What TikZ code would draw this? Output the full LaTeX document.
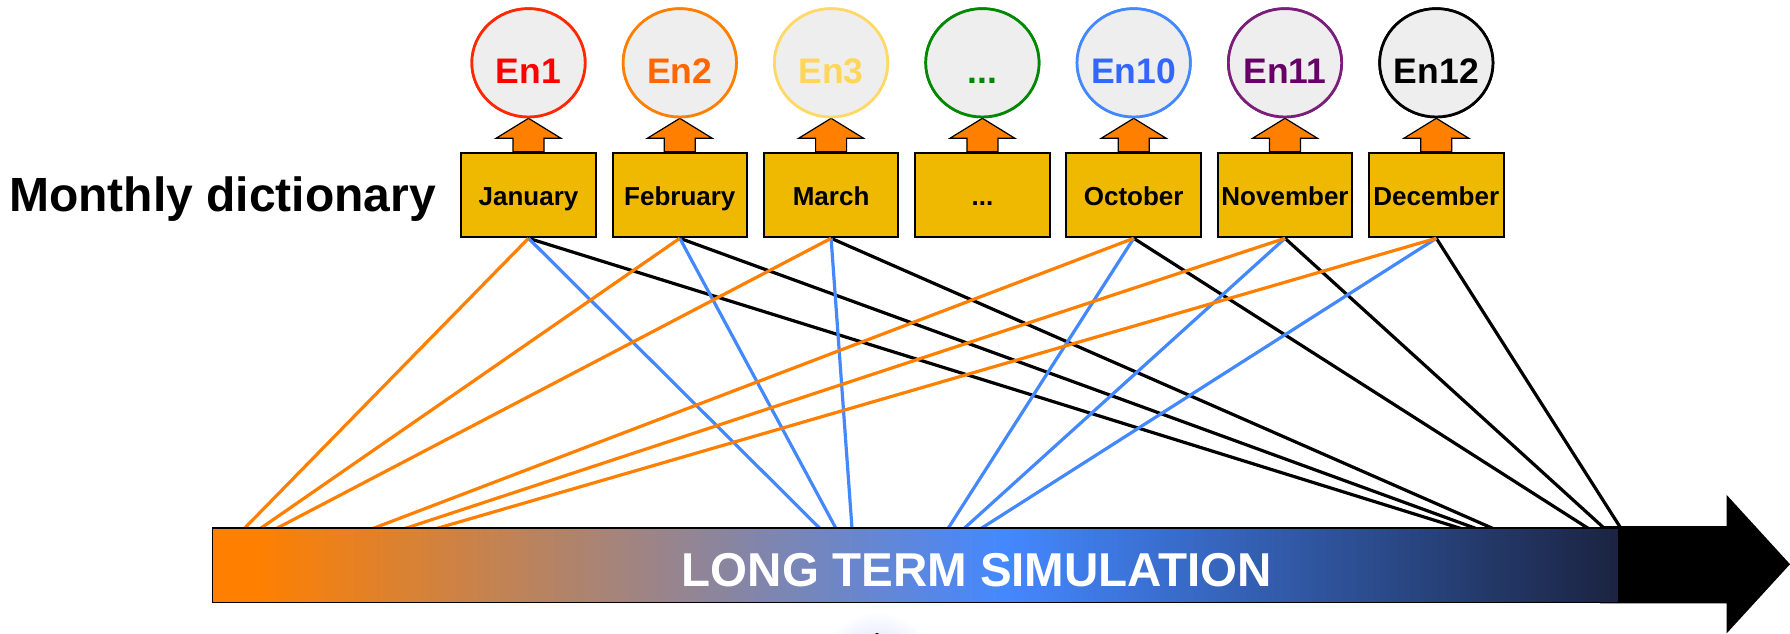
\documentclass[tikz,border=0pt]{standalone}
\usepackage{fontspec}
\setmainfont{Liberation Sans}
\usetikzlibrary{calc,shapes.geometric}
\definecolor{cOrange}{RGB}{255,128,0}
\definecolor{cBlue}{RGB}{68,136,255}
\definecolor{cNavy}{RGB}{27,35,64}
\definecolor{boxfill}{RGB}{238,185,0}
\definecolor{ellfill}{RGB}{238,238,238}
\definecolor{glowblue}{RGB}{200,212,255}
\definecolor{eAb}{RGB}{255,40,0}\definecolor{eAt}{RGB}{255,0,0}
\definecolor{eBb}{RGB}{255,128,0}\definecolor{eBt}{RGB}{255,102,0}
\definecolor{eCb}{RGB}{255,217,102}\definecolor{eCt}{RGB}{255,214,90}
\definecolor{eDb}{RGB}{0,136,0}\definecolor{eDt}{RGB}{0,136,0}
\definecolor{eEb}{RGB}{68,136,255}\definecolor{eEt}{RGB}{51,102,255}
\definecolor{eFb}{RGB}{123,30,122}\definecolor{eFt}{RGB}{102,0,102}
\definecolor{eGb}{RGB}{0,0,0}\definecolor{eGt}{RGB}{0,0,0}
\newcommand\tridots{...}
\pgfdeclarehorizontalshading{timebar}{100bp}{color(0bp)=(cOrange); color(25bp)=(cOrange); color(26.5bp)=(cOrange); color(53.2bp)=(cBlue); color(75bp)=(cNavy); color(100bp)=(cNavy)}
\tikzset{
  monthbox/.style={draw=black, line width=2pt, fill=boxfill, minimum width=134.6pt, minimum height=84.6pt, inner sep=0pt},
  encirc/.style={ellipse, line width=2.7pt, fill=ellfill, minimum width=113.3pt, minimum height=108.3pt, inner sep=0pt},
  monthtext/.style={font=\fontsize{26}{31}\selectfont\bfseries, inner sep=0pt, anchor=base},
  entext/.style={font=\fontsize{35.5}{42}\selectfont\bfseries, inner sep=0pt, anchor=base},
  uparrow/.style={fill=cOrange, draw=black, line width=1.2pt, line join=miter},
  link/.style={line width=3.2pt},
  olink/.style={link, draw=cOrange},
  blink/.style={link, draw=cBlue},
  klink/.style={link, draw=black}
}
\begin{document}
\begin{tikzpicture}[x=1pt,y=-1pt]
\useasboundingbox (0,0) rectangle (1790,634);
% faint glow at the bottom edge
\begin{scope}
\clip (0,0) rectangle (1790,634);
\shade[inner color=glowblue, outer color=white] (877,672) circle (60pt);
\fill[black] (877,636) circle (3pt);
\end{scope}
% big black arrow
\fill[black] (1600,526) -- (1726.7,526) -- (1726.7,495) -- (1790,564.2) -- (1726.7,633.3) -- (1726.7,603.3) -- (1600,603.3) -- cycle;
% title
\node[font=\fontsize{48}{58}\selectfont\bfseries, anchor=base west, inner sep=0pt] (title) at (9,211.7) {Monthly dictionary};
% columns
\foreach \i/\mname/\ename/\bcol/\tcol in {1/January/En1/eAb/eAt, 2/February/En2/eBb/eBt, 3/March/En3/eCb/eCt, 4/\tridots/\tridots/eDb/eDt, 5/October/En10/eEb/eEt, 6/November/En11/eFb/eFt, 7/December/En12/eGb/eGt}{
  \pgfmathsetmacro\cx{528.5+151.3*(\i-1)}
  \node[monthbox] (m\i) at (\cx,195) {};
  \node[encirc, draw=\bcol] (e\i) at (\cx,62.8) {};
  \draw[uparrow] ($(m\i.north)+(-15.5,0)$) -- (\cx-15.5,138.3) -- (\cx-32.5,138.3) -- (e\i.south) -- (\cx+32.5,138.3) -- (\cx+15.5,138.3) -- ($(m\i.north)+(15.5,0)$) -- cycle;
  \node[monthbox] at (m\i) {};
  \node[encirc, draw=\bcol] at (e\i) {};
  \node[monthtext] (mt\i) at (\cx,205) {\mname};
  \node[entext, text=\tcol] (et\i) at (\cx,83.3) {\ename};
}
% connector end points on the bar
\foreach \i/\o/\b/\k in {1/244.3/820/1461, 2/260.4/836/1476, 3/276.4/852/1493, 5/372.9/948/1588.4, 6/405/964/1604.5, 7/436.6/981/1621}{
  \coordinate (o\i) at (\o,528.5);
  \coordinate (b\i) at (\b,528.5);
  \coordinate (k\i) at (\k,528.5);
}
\foreach \i in {1,2,3,5,6,7}{ \draw[klink] (m\i.south) -- (k\i); }
\foreach \i in {1,2,3,5,6,7}{ \draw[blink] (m\i.south) -- (b\i); }
\foreach \i in {1,2,3,5,6,7}{ \draw[olink] (m\i.south) -- (o\i); }
% gradient bar
\node[draw=black, line width=1.8pt, shade, shading=timebar, minimum width=1406.3pt, minimum height=74.8pt, inner sep=0pt] (bar) at (915.65,565) {};
\node[font=\fontsize{47.5}{56}\selectfont\bfseries, text=white, anchor=base, inner sep=0pt] (lts) at (977,586) {LONG TERM SIMULATION};
\end{tikzpicture}
\end{document}
